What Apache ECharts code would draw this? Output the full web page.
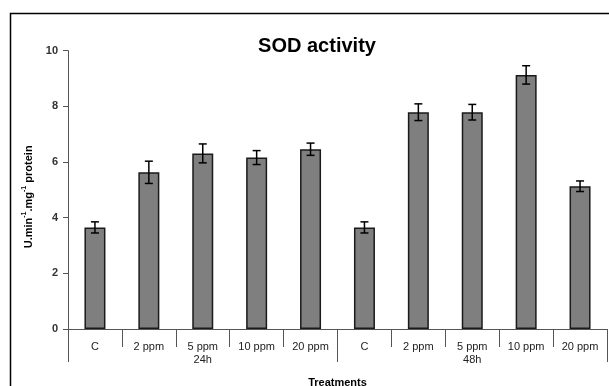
<!DOCTYPE html>
<html><head><meta charset="utf-8">
<script src="https://cdn.jsdelivr.net/npm/echarts@6/dist/echarts.min.js"></script>
<style>html,body{margin:0;padding:0;background:#fff}#c{width:609px;height:386px}</style>
</head><body><div id="c"></div>
<script>
var categories = ['C','2 ppm','5 ppm','10 ppm','20 ppm','C','2 ppm','5 ppm','10 ppm','20 ppm'];
var groups = ['24h','48h'];
var values = [3.65, 5.63, 6.31, 6.16, 6.46, 3.65, 7.79, 7.79, 9.13, 5.13];
var errors = [0.20, 0.40, 0.34, 0.25, 0.22, 0.20, 0.30, 0.28, 0.33, 0.19];
var yTicks = [0, 2, 4, 6, 8, 10];

var chart = echarts.init(document.getElementById('c'));
var font = 'Liberation Sans, Arial, sans-serif';
var errData = values.map(function(v,i){return [i, v - errors[i], v + errors[i]];});
chart.setOption({
  animation: false,
  backgroundColor: '#fff',
  graphic: [{type:'rect', shape:{x:10.5, y:13.5, width:640, height:420}, style:{fill:'none', stroke:'#000', lineWidth:1.5}}],
  title: {text:'SOD activity', left:312, top:31, textAlign:'center',
    textStyle:{fontFamily:font, fontWeight:'bold', fontSize:20, color:'#000'}},
  grid: {left:68, right:2, top:50.7, bottom:57, containLabel:false, outerBoundsMode:'none'},
  xAxis: [{
    type:'category', data:categories, position:'bottom',
    axisLine:{show:true, lineStyle:{color:'#555', width:1}},
    axisTick:{show:true, length:18, lineStyle:{color:'#555'}},
    axisLabel:{margin:12, fontFamily:font, fontSize:11, color:'#222'},
    name:'Treatments', nameLocation:'middle', nameGap:48,
    nameTextStyle:{fontFamily:font, fontWeight:'bold', fontSize:11, color:'#000'}
  },{
    type:'category', data:groups, position:'bottom', gridIndex:0,
    axisLine:{show:false},
    axisTick:{show:true, length:33, lineStyle:{color:'#555'}},
    axisLabel:{margin:25, fontFamily:font, fontSize:11, color:'#222'}
  }],
  yAxis: {
    type:'value', min:yTicks[0], max:yTicks[yTicks.length-1], interval:2,
    splitLine:{show:false},
    axisLine:{show:true, lineStyle:{color:'#555'}},
    axisTick:{show:true, length:5, lineStyle:{color:'#555'}},
    axisLabel:{margin:10, fontFamily:font, fontSize:11, fontWeight:'bold', color:'#333'},
    name:'{n|U.min}{s|-1}{n|.mg}{s|-1}{n| protein}', nameLocation:'middle', nameGap:32,
    nameTextStyle:{padding:[0,14,0,0], rich:{
      n:{fontFamily:font, fontWeight:'bold', fontSize:11, color:'#000', lineHeight:14, verticalAlign:'bottom'},
      s:{fontFamily:font, fontWeight:'bold', fontSize:7, color:'#000', lineHeight:14, verticalAlign:'top'}
    }}
  },
  series: [{
    type:'bar', data:values, barWidth:21, xAxisIndex:0,
    itemStyle:{color:'#7f7f7f', borderColor:'#1a1a1a', borderWidth:1.5}
  },{
    type:'custom', xAxisIndex:0, data:errData, z:10,
    renderItem:function(params, api){
      var x = api.value(0);
      var lo = api.coord([x, api.value(1)]);
      var hi = api.coord([x, api.value(2)]);
      var w = 4;
      var st = {stroke:'#000', lineWidth:1.5};
      return {type:'group', children:[
        {type:'line', shape:{x1:lo[0], y1:lo[1], x2:hi[0], y2:hi[1]}, style:st},
        {type:'line', shape:{x1:lo[0]-w, y1:lo[1], x2:lo[0]+w, y2:lo[1]}, style:st},
        {type:'line', shape:{x1:hi[0]-w, y1:hi[1], x2:hi[0]+w, y2:hi[1]}, style:st}
      ]};
    }
  }]
});
</script></body></html>
